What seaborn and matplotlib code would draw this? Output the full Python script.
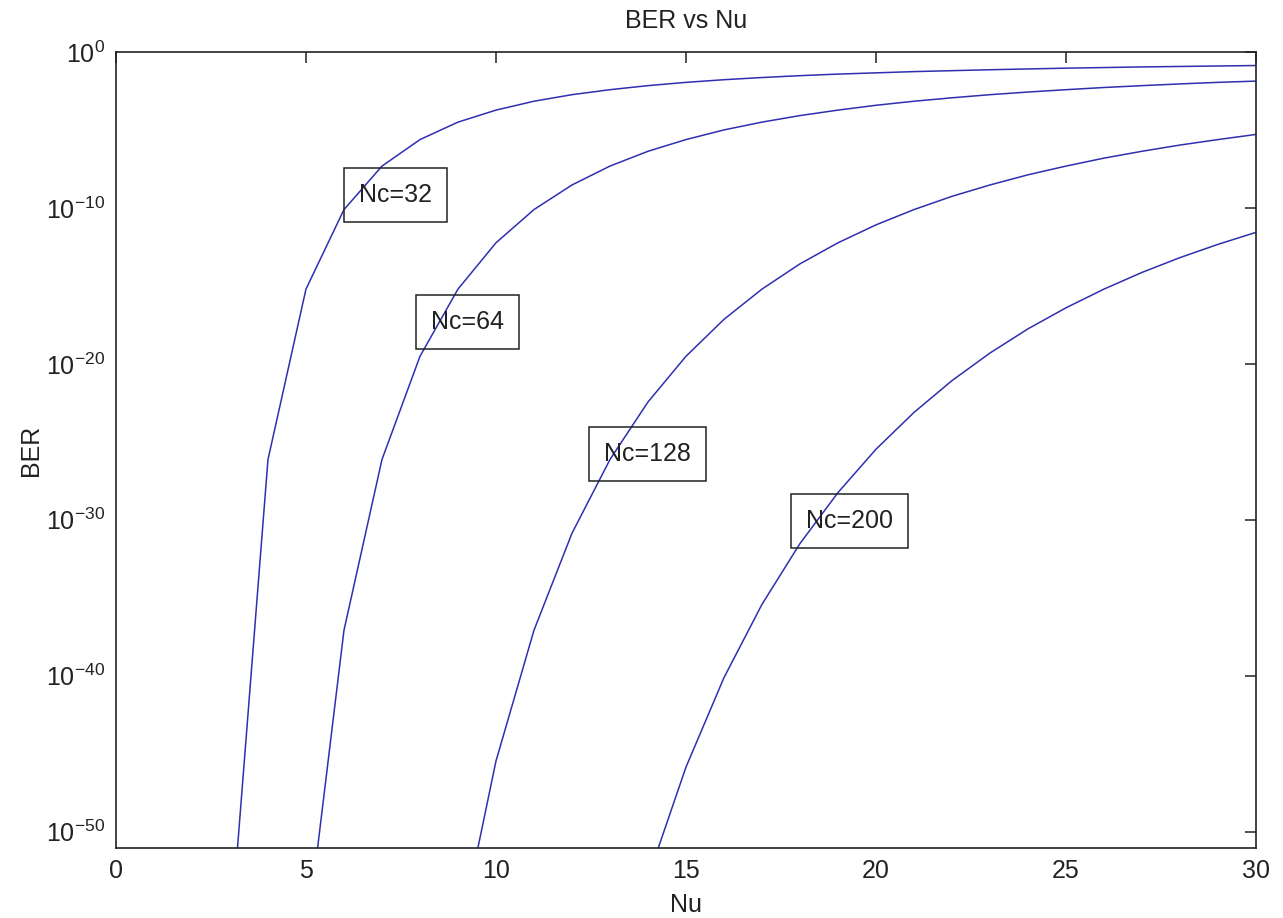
import numpy as np
import pandas as pd
import matplotlib
matplotlib.use("Agg")
import matplotlib.pyplot as plt
import seaborn as sns

# values: log10(BER) at integer Nu
nc_values = [32, 64, 128, 200]

nu_32 = list(range(3, 31))
ber_32 = [-57.19, -26.14, -15.21, -10.11, -7.32, -5.62, -4.50, -3.73, -3.16, -2.74,
          -2.42, -2.16, -1.95, -1.78, -1.64, -1.52, -1.42, -1.34, -1.26, -1.20,
          -1.14, -1.09, -1.04, -1.00, -0.96, -0.93, -0.90, -0.87]

nu_64 = list(range(5, 31))
ber_64 = [-57.19, -37.09, -26.14, -19.52, -15.21, -12.24, -10.11, -8.53, -7.32, -6.37,
          -5.62, -5.00, -4.50, -4.08, -3.73, -3.42, -3.16, -2.94, -2.74, -2.57,
          -2.42, -2.28, -2.16, -2.05, -1.95, -1.87]

nu_128 = list(range(9, 31))
ber_128 = [-57.19, -45.48, -37.09, -30.87, -26.14, -22.45, -19.52, -17.15, -15.21, -13.59,
           -12.24, -11.09, -10.11, -9.26, -8.53, -7.88, -7.32, -6.81, -6.37, -5.97,
           -5.62, -5.29]

nu_200 = list(range(13, 31))
ber_200 = [-61.94, -52.98, -45.87, -40.13, -35.43, -31.53, -28.26, -25.48, -23.12, -21.08,
           -19.31, -17.76, -16.41, -15.21, -14.14, -13.19, -12.34, -11.57]

# text labels (left of text, log10 of centre)
label_x = [6.4, 8.3, 12.85, 18.15]
label_y = [-9.2, -17.3, -25.8, -30.1]

frames = []
for nc, nu, b in zip(nc_values, [nu_32, nu_64, nu_128, nu_200],
                     [ber_32, ber_64, ber_128, ber_200]):
    frames.append(pd.DataFrame({"Nu": nu, "BER": 10.0 ** np.array(b), "Nc": nc}))
df = pd.concat(frames, ignore_index=True)

sns.set_style("white")
plt.rcParams["font.family"] = ["Liberation Sans", "DejaVu Sans"]
plt.rcParams["mathtext.fontset"] = "custom"
plt.rcParams["mathtext.rm"] = "Liberation Sans"
plt.rcParams["mathtext.it"] = "Liberation Sans:italic"
plt.rcParams["axes.unicode_minus"] = False

fig = plt.figure(figsize=(12.83, 9.18), dpi=100)
ax = fig.add_axes([0.0904, 0.0763, 0.8885, 0.8671])

line_color = "#2f2fb0"
sns.lineplot(data=df, x="Nu", y="BER", hue="Nc", units="Nc", estimator=None,
             palette=[line_color] * 4, linewidth=1.1, legend=False, ax=ax)

ax.set_yscale("log")
ax.set_xlim(0, 30)
ax.set_ylim(10 ** -51.05, 1)
ax.set_xticks([0, 5, 10, 15, 20, 25, 30])
ax.set_xticklabels(["0", "5", "10", "15", "20", "25", "30"])
ax.set_yticks([10.0 ** e for e in [-50, -40, -30, -20, -10, 0]])
ax.yaxis.set_minor_locator(matplotlib.ticker.NullLocator())

for side in ["top", "bottom", "left", "right"]:
    ax.spines[side].set_visible(True)
    ax.spines[side].set_color("#222222")
    ax.spines[side].set_linewidth(1.2)
ax.tick_params(which="both", direction="in", top=True, right=True, length=8,
               width=1.1, color="#222222", labelsize=18, labelcolor="#222222", pad=8)

ax.set_title("BER vs Nu", fontsize=18, color="#222222", pad=17)
ax.set_xlabel("Nu", fontsize=18, color="#222222", labelpad=7)
ax.set_ylabel("BER", fontsize=18, color="#222222", labelpad=2)

for nc, lx, ly in zip(nc_values, label_x, label_y):
    ax.text(lx, 10.0 ** ly, f"Nc={nc}", fontsize=18, color="#222222",
            ha="left", va="center",
            bbox=dict(boxstyle="square,pad=0.6", facecolor="none",
                      edgecolor="#222222", linewidth=1.1))

fig.savefig("out.png", dpi=100)
